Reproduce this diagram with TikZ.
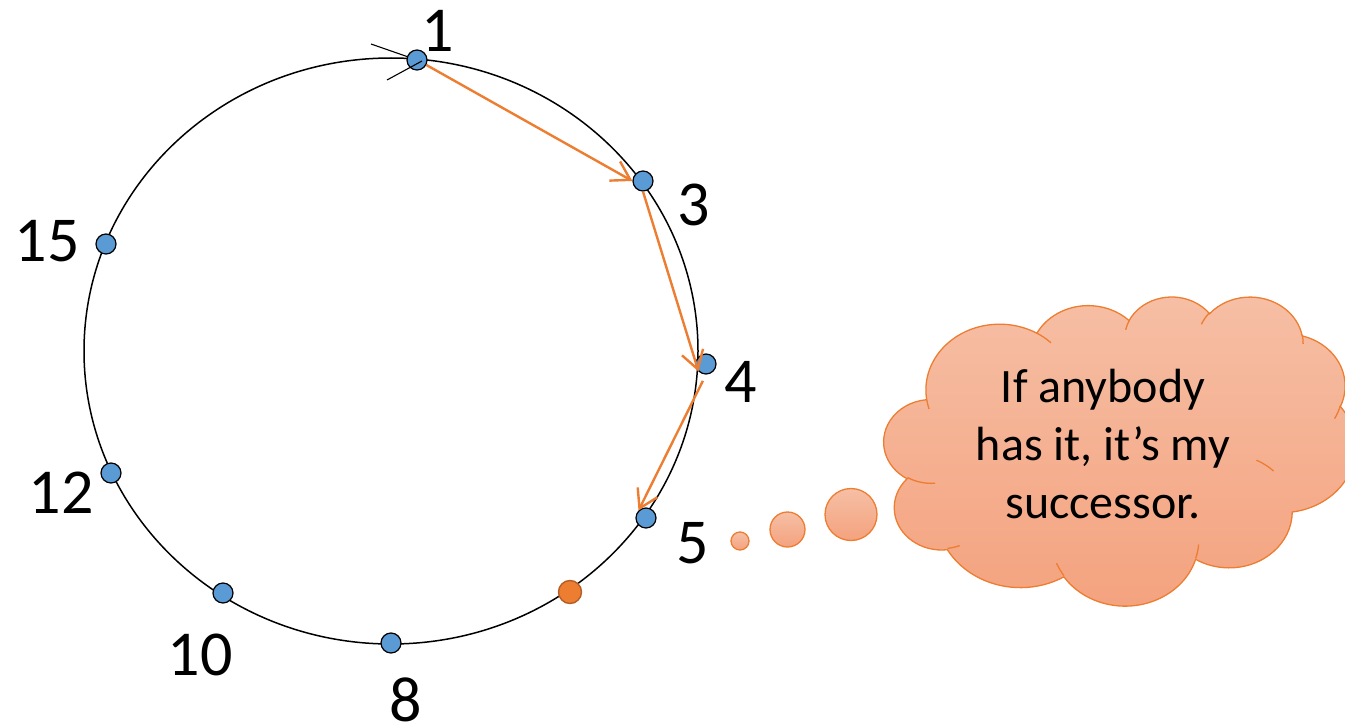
\documentclass[tikz,border=0pt]{standalone}
\usepackage{fontspec}
\setmainfont{Carlito}
\usetikzlibrary{arrows.meta}
\definecolor{nodeblue}{HTML}{5B9BD5}
\definecolor{accent}{HTML}{ED7D31}
\definecolor{accentdark}{HTML}{B35E24}
\definecolor{cloudtop}{HTML}{F6BFA5}
\definecolor{cloudbot}{HTML}{F4A27E}
\newcommand\ooprep[5]{%
  \pgfmathsetmacro\ootmpA{atan2((#2)*sin(#4),(#3)*cos(#4))}%
  \pgfmathsetmacro\ootmpB{atan2((#2)*sin((#4)+(#5)),(#3)*cos((#4)+(#5)))}%
  \pgfmathsetmacro\ootmpB{(\ootmpB<\ootmpA)?(\ootmpB+360):(\ootmpB)}%
  \expandafter\xdef\csname ooS#1\endcsname{\ootmpA}%
  \expandafter\xdef\csname ooE#1\endcsname{\ootmpB}%
}
% outline arcs
\ooprep{a}{67.53}{91.90}{-190.487483}{123.780533}
\ooprep{b}{53.33}{72.67}{-144.102383}{89.945233}
\ooprep{c}{43.65}{59.45}{-145.807917}{99.723017}
\ooprep{d}{48.57}{65.95}{-130.986067}{117.241733}
\ooprep{e}{53.33}{72.73}{-78.708883}{109.026917}
\ooprep{f}{67.75}{92.20}{-46.26725}{130.269}
\ooprep{g}{57.85}{78.67}{0.625017}{114.033333}
\ooprep{h}{67.52}{92.15}{22.4516}{115.17255}
\ooprep{i}{77.20}{105.43}{66.242633}{75.711017}
\ooprep{j}{43.60}{59.18}{-274.942083}{146.735567}
\ooprep{k}{43.45}{59.45}{-246.8285}{152.51885}
% inner arcs
\ooprep{ia}{43.45}{59.45}{86.742}{26.4295}
\ooprep{ib}{43.60}{59.18}{73.610467}{11.447467}
\ooprep{ic}{67.52}{92.15}{137.62415}{14.0811}
\ooprep{id}{67.52}{92.15}{6.453267}{15.99835}
\ooprep{ie}{57.85}{78.67}{-70.29235}{16.706967}
\ooprep{if}{53.33}{72.73}{18.6619}{18.4695}
\ooprep{ig}{48.57}{65.95}{-13.744333}{14.854583}
\ooprep{ih}{48.57}{65.95}{-149.18145}{18.187633}
\ooprep{ii}{43.65}{59.45}{-163.494267}{17.699383}
\ooprep{ij}{67.53}{91.90}{-66.70695}{12.31935}
\ooprep{ik}{67.53}{91.90}{157.65435}{11.858167}
\tikzset{
  ring/.style={draw=black, line width=1.5pt},
  dot/.style={circle, fill=nodeblue, draw=black, line width=1.2pt, minimum size=20pt, inner sep=0pt},
  hotdot/.style={circle, fill=accent, draw=accentdark, line width=1.4pt, minimum size=23pt, inner sep=0pt},
  numlabel/.style={font=\fontsize{64}{76}\selectfont, inner sep=0pt},
  hop/.style={draw=accent, line width=2.4pt, -{Straight Barb[length=18pt,width=22pt]}},
  bubble/.style={circle, draw=accent, line width=1.3pt, top color=cloudtop, bottom color=cloudbot, inner sep=0pt},
  cloudline/.style={draw=accent, line width=1.3pt},
  thoughttext/.style={font=\fontsize{48}{58}\selectfont, align=center, inner sep=0pt},
}
\begin{document}
\begin{tikzpicture}[x=1pt, y=-1pt]
\useasboundingbox (0,0) rectangle (1345,725);
\clip (0,0) rectangle (1345,725);
% ring
\draw[ring] (391,351) ellipse [x radius=307, y radius=293];
% tick marks at node 1
\coordinate (c1) at (417,60);
\coordinate (tk1a) at (371,44);
\coordinate (tk1b) at (387,80);
\coordinate (tk1c) at (422,61);
\draw[ring, line width=1.1pt] (tk1a) -- (c1);
% dots
\node[dot] (n1) at (c1) {};
\node[dot] (n3) at (643,181) {};
\node[dot] (n4) at (706,364) {};
\node[dot] (n5) at (646,518) {};
\node[dot] (n8) at (391,643) {};
\node[dot] (n10) at (223,593) {};
\node[dot] (n12) at (111,473) {};
\node[dot] (n15) at (106,244) {};
\node[hotdot] (hot) at (570,592) {};
\draw[ring, line width=1.1pt] (tk1b) -- (tk1c);
% hops
\draw[hop] (n1.-28) -- (n3.west);
\draw[hop] (n3.south) -- (n4.south west);
\draw[hop, shorten <=7pt] (n4.south) -- (n5.135);
% labels
\node[numlabel] (l1) at (438,31) {1};
\node[numlabel] (l3) at (694,205) {3};
\node[numlabel] (l4) at (741,382) {4};
\node[numlabel] (l5) at (693,543) {5};
\node[numlabel] (l8) at (406,700) {8};
\node[numlabel] (l10) at (200,655) {10};
\node[numlabel] (l12) at (61,493) {12};
\node[numlabel] (l15) at (47,241) {15};
% cloud
\begin{scope}[shift={(884,296)}, x=1.09144pt, y=-0.71528pt]
  \path[cloudline, top color=cloudtop, bottom color=cloudbot]
    (39.00,143.70)
    arc[start angle=\ooSa, end angle=\ooEa, x radius=67.53, y radius=91.90]
    arc[start angle=\ooSb, end angle=\ooEb, x radius=53.33, y radius=72.67]
    arc[start angle=\ooSc, end angle=\ooEc, x radius=43.65, y radius=59.45]
    arc[start angle=\ooSd, end angle=\ooEd, x radius=48.57, y radius=65.95]
    arc[start angle=\ooSe, end angle=\ooEe, x radius=53.33, y radius=72.73]
    arc[start angle=\ooSf, end angle=\ooEf, x radius=67.75, y radius=92.20]
    arc[start angle=\ooSg, end angle=\ooEg, x radius=57.85, y radius=78.67]
    arc[start angle=\ooSh, end angle=\ooEh, x radius=67.52, y radius=92.15]
    arc[start angle=\ooSi, end angle=\ooEi, x radius=77.20, y radius=105.43]
    arc[start angle=\ooSj, end angle=\ooEj, x radius=43.60, y radius=59.18]
    arc[start angle=\ooSk, end angle=\ooEk, x radius=43.45, y radius=59.45]
    -- cycle;
  \draw[cloudline]
    (46.93,261.77) arc[start angle=\ooSia, end angle=\ooEia, x radius=43.45, y radius=59.45]
    (69.28,348.99) arc[start angle=\ooSib, end angle=\ooEib, x radius=43.60, y radius=59.18]
    (164.78,390.90) arc[start angle=\ooSic, end angle=\ooEic, x radius=67.52, y radius=92.15]
    (288.27,347.51) arc[start angle=\ooSid, end angle=\ooEid, x radius=67.52, y radius=92.15]
    (341.29,229.54) arc[start angle=\ooSie, end angle=\ooEie, x radius=57.85, y radius=78.67]
    (417.98,153.54) arc[start angle=\ooSif, end angle=\ooEif, x radius=53.33, y radius=72.73]
    (383.24,54.26) arc[start angle=\ooSig, end angle=\ooEig, x radius=48.57, y radius=65.95]
    (290.78,39.52) arc[start angle=\ooSih, end angle=\ooEih, x radius=48.57, y radius=65.95]
    (221.41,47.20) arc[start angle=\ooSii, end angle=\ooEii, x radius=43.65, y radius=59.45]
    (140.00,51.92) arc[start angle=\ooSij, end angle=\ooEij, x radius=67.53, y radius=91.90]
    (41.27,157.89) arc[start angle=\ooSik, end angle=\ooEik, x radius=67.53, y radius=91.90];
\end{scope}
% thought bubbles
\node[bubble, minimum size=18pt] (b1) at (740,541) {};
\node[bubble, minimum size=35pt] (b2) at (787.5,529.5) {};
\node[bubble, minimum size=52pt] (b3) at (851,514.5) {};
% text
\node[thoughttext] (thought) at (1103,444) {If anybody\\has it, it’s my\\successor.};
\end{tikzpicture}
\end{document}
